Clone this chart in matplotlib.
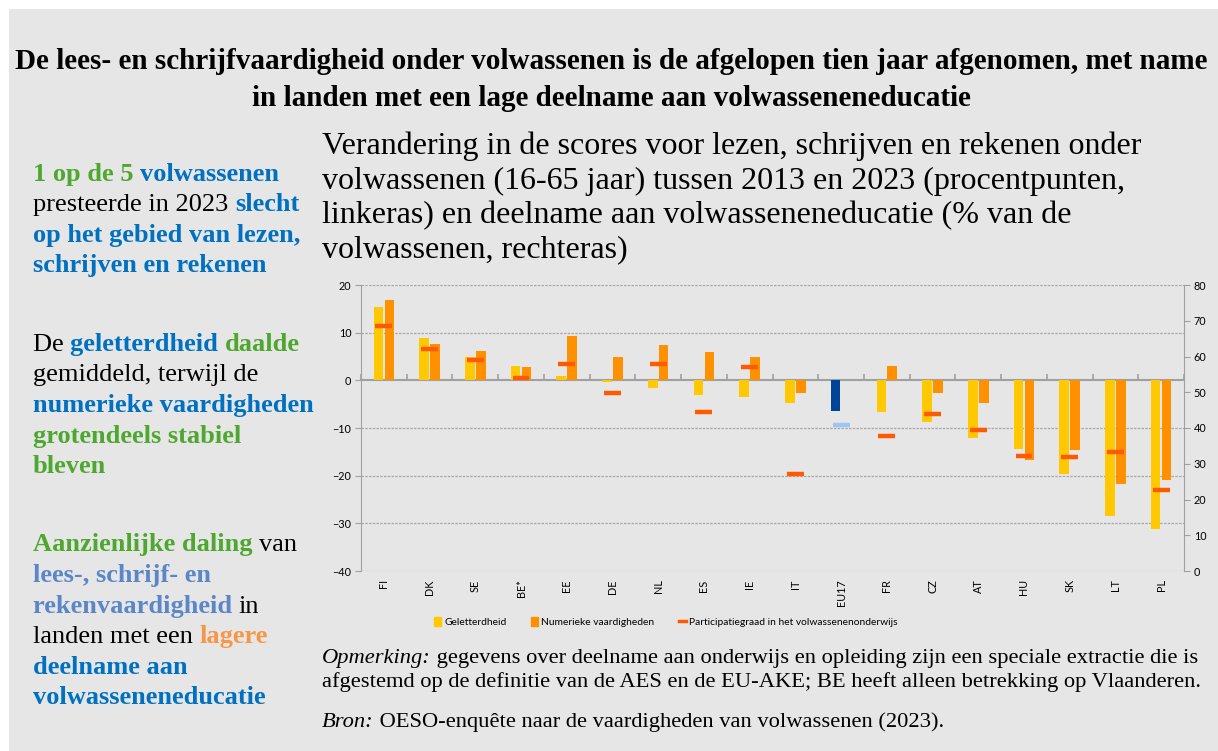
import matplotlib
matplotlib.use("Agg")
import matplotlib.pyplot as plt
from matplotlib.patches import Patch, Rectangle
from matplotlib.lines import Line2D
import numpy as np

countries = ['FI', 'DK', 'SE', 'BE*', 'EE', 'DE', 'NL', 'ES', 'IE', 'IT',
             'EU17', 'FR', 'CZ', 'AT', 'HU', 'SK', 'LT', 'PL']
literacy = [15.3, 8.8, 5.0, 3.1, 1.0, -0.3, -1.7, -3.0, -3.4, -4.8,
            -6.4, -6.7, -8.8, -12.0, -14.5, -19.6, -28.4, -31.1]
numeracy = [16.8, 7.7, 6.2, 2.7, 9.4, 4.8, 7.5, 6.0, 4.8, -2.6,
            0.1, 3.1, -2.6, -4.8, -16.8, -14.7, -21.7, -21.0]
participation = [68.5, 62.0, 58.9, 53.9, 57.8, 49.7, 57.8, 44.4, 57.0, 27.1,
                 40.8, 37.9, 44.0, 39.4, 32.2, 32.0, 33.4, 22.7]

YELLOW = '#ffc800'
ORANGE = '#ff9000'
RED = '#ff5a00'
EU_DARK = '#00449a'
EU_LIGHT = '#9dc6f2'
GREEN = '#4ea72e'
BLUE = '#0070c0'
LBLUE = '#5b86c8'
LORANGE = '#f79646'
BG = '#e6e6e6'
AXGREY = '#a0a0a0'

SERIF = 'Liberation Serif'
SANS = 'Lato'

fig = plt.figure(figsize=(12.18, 7.51), dpi=100)
fig.patch.set_facecolor('white')
fig.patches.append(Rectangle((9 / 1218, 0), 1 - 9 / 1218, 1 - 9 / 751,
                             transform=fig.transFigure, facecolor=BG,
                             edgecolor='none', zorder=-10))

# overlay axes for text
tax = fig.add_axes([0, 0, 1, 1])
tax.set_axis_off()
tax.set_xlim(0, 1218)
tax.set_ylim(751, 0)


def rainbow(x, y, parts, size):
    prev = None
    for s, color, weight, style in parts:
        if prev is None:
            prev = tax.text(x, y, s, color=color, fontweight=weight, fontstyle=style,
                            fontsize=size, family=SERIF, va='baseline', ha='left')
        else:
            prev = tax.annotate(s, xy=(1, 0), xycoords=prev, color=color,
                                fontweight=weight, fontstyle=style, fontsize=size,
                                family=SERIF, va='bottom', ha='left')


# title
tax.text(611, 69, 'De lees- en schrijfvaardigheid onder volwassenen is de afgelopen tien jaar afgenomen, met name',
         ha='center', va='baseline', fontsize=21, fontweight='bold', family=SERIF)
tax.text(611, 106, 'in landen met een lage deelname aan volwasseneneducatie',
         ha='center', va='baseline', fontsize=21, fontweight='bold', family=SERIF)

# subtitle
sub = ['Verandering in de scores voor lezen, schrijven en rekenen onder',
       'volwassenen (16-65 jaar) tussen 2013 en 2023 (procentpunten,',
       'linkeras) en deelname aan volwasseneneducatie (% van de',
       'volwassenen, rechteras)']
for i, line in enumerate(sub):
    tax.text(322, 154 + i * 34.5, line, ha='left', va='baseline', fontsize=23, family=SERIF)

# left text
B, N = 'bold', 'normal'
left_lines = [
    (181, [('1 op de 5 ', GREEN, B, N), ('volwassenen', BLUE, B, N)]),
    (211, [('presteerde in 2023 ', 'black', N, N), ('slecht', BLUE, B, N)]),
    (242, [('op het gebied van lezen,', BLUE, B, N)]),
    (272, [('schrijven en rekenen', BLUE, B, N)]),
    (351, [('De ', 'black', N, N), ('geletterdheid ', BLUE, B, N), ('daalde', GREEN, B, N)]),
    (381, [('gemiddeld, terwijl de', 'black', N, N)]),
    (412, [('numerieke vaardigheden', BLUE, B, N)]),
    (443, [('grotendeels stabiel', GREEN, B, N)]),
    (473, [('bleven', GREEN, B, N)]),
    (551, [('Aanzienlijke daling ', GREEN, B, N), ('van', 'black', N, N)]),
    (582, [('lees-, schrijf- en', LBLUE, B, N)]),
    (613, [('rekenvaardigheid ', LBLUE, B, N), ('in', 'black', N, N)]),
    (643, [('landen met een ', 'black', N, N), ('lagere', LORANGE, B, N)]),
    (674, [('deelname aan', BLUE, B, N)]),
    (704, [('volwasseneneducatie', BLUE, B, N)]),
]
for y, parts in left_lines:
    rainbow(33, y, parts, 19)

# notes
rainbow(322, 663, [('Opmerking:', 'black', N, 'italic'),
                   (' gegevens over deelname aan onderwijs en opleiding zijn een speciale extractie die is',
                    'black', N, N)], 16.2)
rainbow(322, 687, [('afgestemd op de definitie van de AES en de EU-AKE; BE heeft alleen betrekking op Vlaanderen.',
                    'black', N, N)], 16.2)
rainbow(322, 727, [('Bron:', 'black', N, 'italic'),
                   (' OESO-enquête naar de vaardigheden van volwassenen (2023).', 'black', N, N)], 16.2)

# chart
ax = fig.add_axes([361 / 1218, 1 - 571 / 751, 823 / 1218, 286 / 751])
ax.set_facecolor('none')
x = np.arange(len(countries))
lit_colors = [EU_DARK if c == 'EU17' else YELLOW for c in countries]
par_colors = [EU_LIGHT if c == 'EU17' else RED for c in countries]
ax.bar(x - 0.12, literacy, width=0.21, color=lit_colors, zorder=3)
ax.bar(x + 0.12, numeracy, width=0.21, color=ORANGE, zorder=3)
ax.set_xlim(-0.5, len(countries) - 0.5)
ax.set_ylim(-40, 20)
ax.set_yticks(range(-40, 21, 10))
ax.set_xticks(x)
ax.set_xticklabels(countries, rotation=90, fontsize=7.8, family=SANS)
ax.tick_params(axis='x', length=0, pad=6)
ax.tick_params(axis='y', labelsize=7.8, length=4, color=AXGREY, pad=3)
for lab in ax.get_yticklabels():
    lab.set_family(SANS)
for yv in [20, 10, -10, -20, -30, -40]:
    ax.axhline(yv, color='#a8a8a8', lw=0.9, ls=(0, (2, 1)), zorder=1)
for s in ['top', 'bottom', 'right']:
    ax.spines[s].set_visible(False)
ax.spines['left'].set_color(AXGREY)

# zero axis with boundary ticks
zx = ax.secondary_xaxis(40 / 60)
zx.set_xticks(np.arange(-0.5, len(countries), 1.0))
zx.set_xticklabels([])
zx.tick_params(length=4, color=AXGREY, direction='out', width=1.2)
for s in zx.spines.values():
    s.set_color(AXGREY)
    s.set_linewidth(1.5)

ax2 = ax.twinx()
ax2.set_ylim(0, 80)
ax2.set_yticks(range(0, 81, 10))
ax2.tick_params(axis='y', labelsize=7.8, length=4, color=AXGREY, pad=3)
for lab in ax2.get_yticklabels():
    lab.set_family(SANS)
for s in ['top', 'bottom', 'left']:
    ax2.spines[s].set_visible(False)
ax2.spines['right'].set_color(AXGREY)
ax2.hlines(participation, x - 0.185, x + 0.185, colors=par_colors, lw=3.2, zorder=4)

handles = [Patch(color=YELLOW), Patch(color=ORANGE), Line2D([0], [0], color=RED, lw=2.5)]
leg = fig.legend(handles, ['Geletterdheid', 'Numerieke vaardigheden',
                           'Participatiegraad in het volwassenenonderwijs'],
                 loc='center', bbox_to_anchor=(666 / 1218, 1 - 622 / 751), ncol=3,
                 frameon=False, prop={'family': SANS, 'size': 7.4},
                 handlelength=0.7, handleheight=0.9, handletextpad=0.3, columnspacing=2.4)

fig.savefig('out.png', dpi=100)
